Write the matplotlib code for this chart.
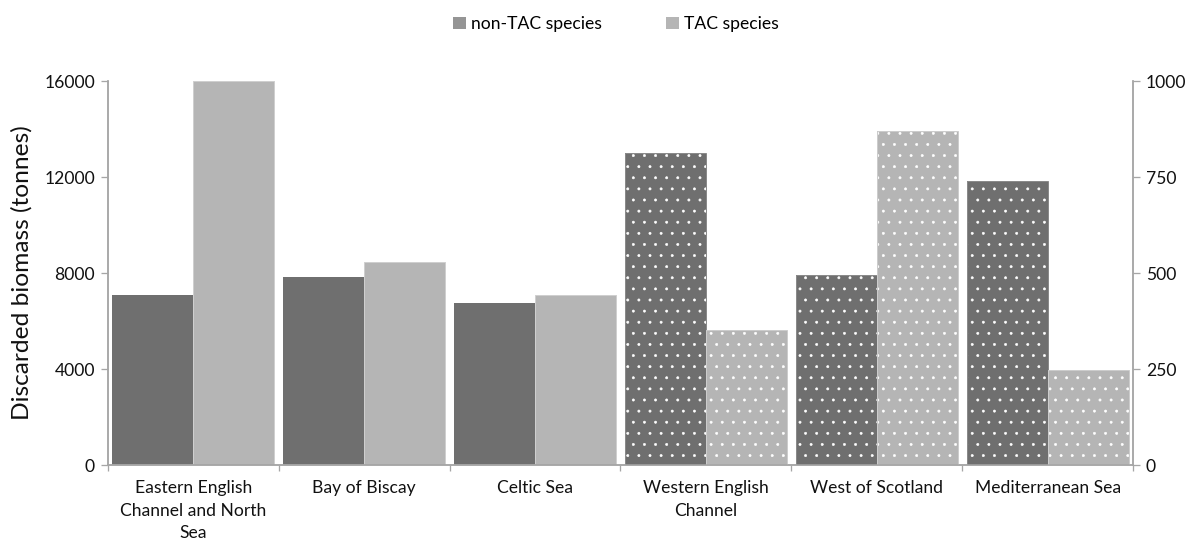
import matplotlib
matplotlib.use("Agg")
import matplotlib.pyplot as plt
from matplotlib.patches import Patch
import numpy as np

DPI = 200

def pt(px):
    # pixel size -> points at the output dpi
    return px * 72.0 / DPI

# data
regions = ["Eastern English\nChannel and North\nSea", "Bay of Biscay", "Celtic Sea",
           "Western English\nChannel", "West of Scotland", "Mediterranean Sea"]
non_tac = [7080, 7840, 6760, 812, 495, 739]
tac = [16000, 8470, 7080, 352, 870, 247]
# last three regions are read against the right-hand axis
on_right = [False, False, False, True, True, True]

left_ticks = [0, 4000, 8000, 12000, 16000]
right_ticks = [0, 250, 500, 750, 1000]

dark = "#6f6f6f"
light = "#b5b5b5"
spine_col = "#a6a6a6"

plt.rcParams["font.family"] = ["Lato", "DejaVu Sans"]
plt.rcParams["hatch.linewidth"] = pt(0.6)

fig = plt.figure(figsize=(1195 / DPI, 545 / DPI), dpi=DPI)
ax = fig.add_axes([108 / 1195, 1 - 465 / 545, (1133 - 108) / 1195, (465 - 81) / 545])
ax2 = ax.twinx()

x = np.arange(len(regions))
w = 0.474

for i in range(len(regions)):
    target = ax2 if on_right[i] else ax
    if on_right[i]:
        target.bar(x[i] - w / 2, non_tac[i], w, color=dark, edgecolor="white",
                   hatch="...", linewidth=0)
        target.bar(x[i] - w / 2, non_tac[i], w, fill=False, edgecolor="#8a8a8a",
                   linewidth=pt(1))
        target.bar(x[i] + w / 2, tac[i], w, color=light, edgecolor="white",
                   hatch="...", linewidth=0)
        target.bar(x[i] + w / 2, tac[i], w, fill=False, edgecolor="#cccccc",
                   linewidth=pt(1))
    else:
        target.bar(x[i] - w / 2, non_tac[i], w, color=dark, linewidth=0)
        target.bar(x[i] + w / 2, tac[i], w, color=light, edgecolor="#cfcfcf",
                   linewidth=pt(1))

ax.set_xlim(-0.5, len(regions) - 0.5)
ax.set_ylim(0, 16000)
ax2.set_ylim(0, 1000)
ax.set_yticks(left_ticks)
ax2.set_yticks(right_ticks)

ax.set_xticks(np.arange(-0.5, len(regions), 1.0))
ax.set_xticklabels([])
ax.set_xticks(x, minor=True)
ax.set_xticklabels(regions, minor=True, fontsize=pt(17.5), color="#111111",
                   linespacing=1.5)
ax.tick_params(axis="x", which="minor", length=0, pad=pt(15))
ax.tick_params(axis="x", which="major", length=pt(6), width=pt(1.3), color=spine_col,
               direction="out")

ax.tick_params(axis="y", length=pt(7), width=pt(1.3), color=spine_col, direction="out",
               labelsize=pt(17.5), labelcolor="#111111", pad=pt(6))
ax2.tick_params(axis="y", length=pt(7), width=pt(1.3), color=spine_col, direction="out",
                labelsize=pt(17.5), labelcolor="#111111", pad=pt(6))

for a in (ax, ax2):
    a.spines["top"].set_visible(False)
    for s in ("left", "right", "bottom"):
        a.spines[s].set_color(spine_col)
        a.spines[s].set_linewidth(pt(1.5))

ax.set_ylabel("Discarded biomass (tonnes)", fontsize=pt(24.5), color="#111111",
              labelpad=pt(12))

handles = [Patch(facecolor="#959595", edgecolor="none", label="non-TAC species"),
           Patch(facecolor=light, edgecolor="none", label="TAC species")]
fig.legend(handles=handles, loc="center", bbox_to_anchor=(616 / 1195, 1 - 24 / 545),
           ncol=2, frameon=False, fontsize=pt(17.5), handlelength=0.7, handleheight=0.7,
           handletextpad=0.3, columnspacing=3.7)

fig.savefig("out.png", dpi=DPI)
